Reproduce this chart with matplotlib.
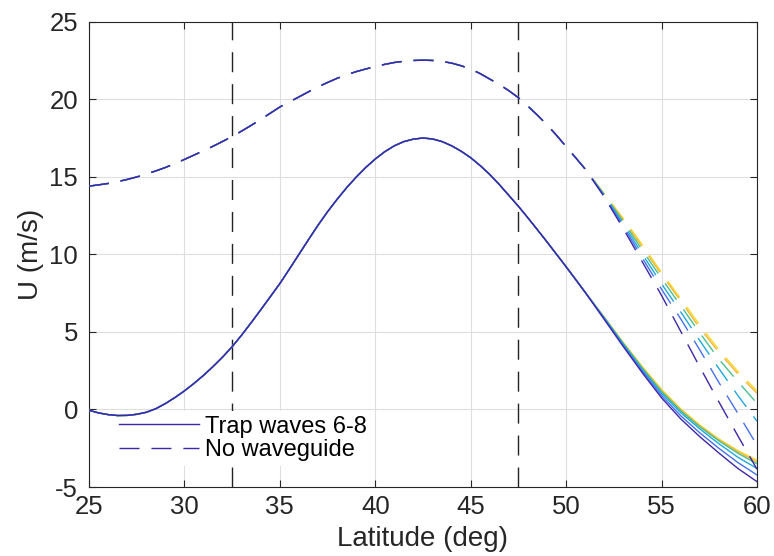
import numpy as np
import matplotlib
matplotlib.use('Agg')
import matplotlib.pyplot as plt

plt.rcParams['font.family'] = ['Liberation Sans', 'DejaVu Sans']

# latitude (deg): half-degree steps where all cases coincide, whole degrees after
lat_common = np.arange(25, 51.01, 0.5)
lat_tail = np.arange(52, 61)

# shared by all cases, 25..51 deg
solid_common = [-0.05, -0.22, -0.33, -0.39, -0.38, -0.31, -0.18, 0.05, 0.38, 0.77,
                1.2, 1.68, 2.2, 2.77, 3.38, 4.05, 4.8, 5.6, 6.43, 7.27,
                8.12, 9.05, 10.0, 10.95, 11.88, 12.75, 13.55, 14.3, 14.98, 15.6,
                16.15, 16.62, 17.0, 17.27, 17.43, 17.5, 17.44, 17.27, 17.0, 16.65,
                16.23, 15.72, 15.15, 14.5, 13.8, 13.1, 12.35, 11.58, 10.8, 10.0,
                9.2, 8.38, 7.55]
dashed_common = [14.4, 14.48, 14.57, 14.69, 14.83, 14.99, 15.17, 15.38, 15.6, 15.85,
                 16.12, 16.4, 16.68, 16.97, 17.28, 17.6, 17.95, 18.32, 18.7, 19.1,
                 19.5, 19.83, 20.15, 20.48, 20.8, 21.08, 21.35, 21.58, 21.78, 21.95,
                 22.1, 22.25, 22.37, 22.45, 22.5, 22.52, 22.5, 22.44, 22.33, 22.16,
                 21.95, 21.65, 21.3, 20.95, 20.55, 20.1, 19.55, 18.97, 18.35, 17.67,
                 16.95, 16.23, 15.5]

# 52..60 deg, one row per case
solid_tail = {
    'purple': [5.8, 4.05, 2.35, 0.75, -0.6, -1.75, -2.8, -3.8, -4.65],
    'blue':   [5.85, 4.1, 2.45, 0.9, -0.4, -1.5, -2.5, -3.42, -4.22],
    'cyan':   [5.9, 4.2, 2.55, 1.05, -0.2, -1.25, -2.2, -3.08, -3.8],
    'green':  [5.92, 4.25, 2.65, 1.15, -0.08, -1.12, -2.02, -2.82, -3.5],
    'orange': [5.94, 4.28, 2.7, 1.22, -0.01, -1.05, -1.95, -2.72, -3.38],
    'yellow': [5.95, 4.3, 2.75, 1.3, 0.05, -1.0, -1.9, -2.65, -3.27],
}
dashed_tail = {
    'purple': [13.7, 11.65, 9.5, 7.35, 5.05, 2.75, 0.5, -1.7, -3.85],
    'blue':   [13.75, 11.8, 9.75, 7.75, 5.85, 3.85, 1.75, -0.25, -2.3],
    'cyan':   [13.8, 11.95, 10.0, 8.1, 6.3, 4.45, 2.65, 0.9, -0.75],
    'green':  [13.85, 12.1, 10.25, 8.45, 6.7, 4.95, 3.25, 1.8, 0.4],
    'orange': [13.88, 12.2, 10.45, 8.7, 7.0, 5.25, 3.7, 2.3, 1.05],
    'yellow': [13.9, 12.3, 10.6, 8.83, 7.15, 5.45, 3.85, 2.45, 1.2],
}
colors = {'purple': '#3e26a8', 'blue': '#4670f0', 'cyan': '#1fa8dc',
          'green': '#47c08f', 'orange': '#f2b73c', 'yellow': '#f5d925'}

bounds = [32.5, 47.5]
labels = ['Trap waves 6-8', 'No waveguide']

lat = np.concatenate([lat_common, lat_tail])

fig = plt.figure(figsize=(7.74, 5.56), dpi=100)
ax = fig.add_axes([0.115, 0.124, 0.863, 0.837])

dash = (0, (14.4, 8.6))
for b in bounds:
    ax.plot([b, b], [-5, 25], color='#222222', lw=1.0, linestyle=dash, zorder=2)

# yellow first so purple ends up on top
handles = {}
for name in ['yellow', 'orange', 'green', 'cyan', 'blue', 'purple']:
    hs, = ax.plot(lat, solid_common + solid_tail[name], color=colors[name], lw=1.0, zorder=4)
    hd, = ax.plot(lat, dashed_common + dashed_tail[name], color=colors[name], lw=1.0,
                  linestyle=dash, zorder=4)
    handles[name] = (hs, hd)

ax.set_xlim(25, 60)
ax.set_ylim(-5, 25)
ax.set_xticks(np.arange(25, 61, 5))
ax.set_yticks(np.arange(-5, 26, 5))
ax.set_xticklabels([str(v) for v in range(25, 61, 5)])
ax.set_yticklabels([str(v) for v in range(-5, 26, 5)])
ax.grid(True, color='#dedede', lw=0.8, zorder=0)
ax.set_axisbelow(True)

for s in ax.spines.values():
    s.set_color('#262626')
    s.set_linewidth(0.8)
ax.tick_params(direction='in', length=5, width=0.8, top=True, right=True,
               labelsize=18.5, colors='#262626')
ax.tick_params(axis='y', pad=8)
ax.tick_params(axis='x', pad=6)

ax.set_xlabel('Latitude (deg)', fontsize=20, color='#262626', labelpad=5)
ax.set_ylabel('U (m/s)', fontsize=20, color='#262626', labelpad=4)

leg = ax.legend(list(handles['purple']), labels, loc='center left',
                bbox_to_anchor=(0.0375, 0.105), fontsize=17, frameon=True,
                handlelength=3.4, handletextpad=0.25, labelspacing=0.05,
                borderpad=0.2, borderaxespad=0)
leg.get_frame().set_edgecolor('none')
leg.get_frame().set_facecolor('white')
leg.get_frame().set_alpha(1)
leg.set_zorder(3)

plt.savefig('out.png', dpi=100)
